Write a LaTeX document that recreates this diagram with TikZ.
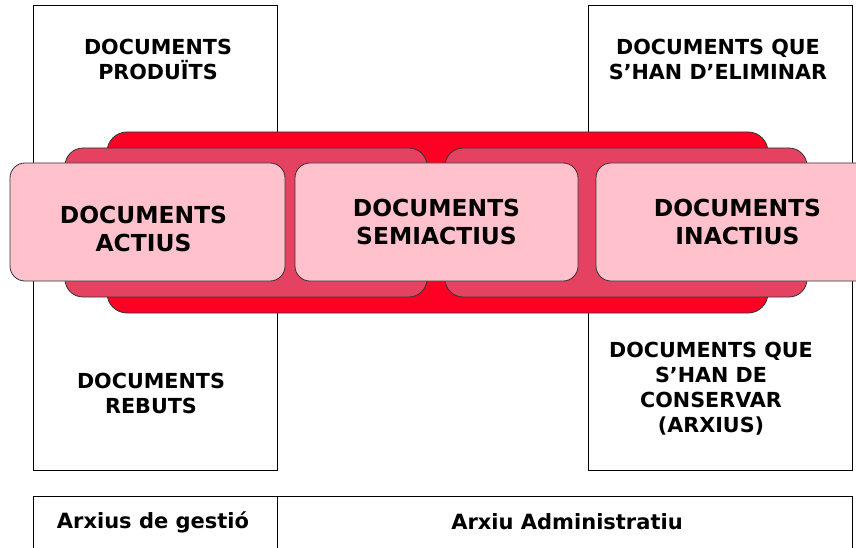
\documentclass[tikz,border=0pt]{standalone}
\usepackage{fontspec}
\setmainfont{DejaVu Sans}
\usetikzlibrary{positioning}

\definecolor{bandred}{HTML}{FF0025}
\definecolor{midpink}{HTML}{E44260}
\definecolor{lightpink}{HTML}{FFC2CD}

\begin{document}
\begin{tikzpicture}[x=1pt, y=-1pt,
	col/.style={draw, fill=white, line width=0.8pt, inner sep=0pt, minimum height=465pt},
	band/.style={draw=black!80, line width=0.8pt, inner sep=0pt, rounded corners=20pt},
	stage/.style={draw=black!80, line width=0.8pt, fill=lightpink, inner sep=0pt,
		rounded corners=15pt, minimum height=118pt},
	big/.style={align=center, font=\fontsize{23.4}{28.5}\selectfont\bfseries},
	small/.style={align=center, font=\fontsize{20.7}{25}\selectfont\bfseries},
	cell/.style={draw, line width=0.8pt, inner sep=0pt, minimum height=70pt},
	foot/.style={font=\fontsize{21}{24}\selectfont\bfseries}]
	\useasboundingbox (0,0) rectangle (856,548);
	\clip (0,0) rectangle (856,548);

	% columns
	\node (cl) [col, minimum width=244pt] at (155,237.5) {};
	\node (cr) [col, minimum width=264pt] at (720,237.5) {};
	\node (prod) [small, below=31pt of cl.north, xshift=3pt] {DOCUMENTS\\PRODUÏTS};
	\node (elim) [small, below=31pt of cr.north, xshift=-2pt] {DOCUMENTS QUE\\S’HAN D’ELIMINAR};
	\node (reb) [small, above=53pt of cl.south, xshift=-4pt] {DOCUMENTS\\REBUTS};
	\node (cons) [small, above=32pt of cr.south, xshift=-9pt] {DOCUMENTS QUE\\S’HAN DE\\CONSERVAR\\(ARXIUS)};

	% bands
	\node (b0) [band, fill=bandred, minimum width=661pt, minimum height=181pt] at (437.5,222.5) {};
	\node (b1) [band, fill=midpink, rounded corners=18pt, minimum width=362pt, minimum height=149pt] at (246,222.5) {};
	\node (b2) [band, fill=midpink, rounded corners=18pt, minimum width=362pt, minimum height=149pt] at (626,222.5) {};

	% stages
	\node (s1) [stage, minimum width=275pt] at (147.5,222) {};
	\node (s2) [stage, minimum width=283pt] at (436.5,222) {};
	\node (s3) [stage, minimum width=285pt] at (738.5,222) {};
	\node (t1) [big] at ([yshift=-7pt, xshift=-4pt]s1) {DOCUMENTS\\ACTIUS};
	\node (t2) [big] at (s2) {DOCUMENTS\\SEMIACTIUS};
	\node (t3) [big] at ([xshift=-1pt]s3) {DOCUMENTS\\INACTIUS};

	% archives
	\node (a1) [cell, minimum width=244pt, anchor=north west] at (33,496) {};
	\node (a2) [cell, minimum width=575pt, anchor=north west] at (277,496) {};
	\node [foot] at (153,522) {Arxius de gestió};
	\node [foot] at (567,522) {Arxiu Administratiu};
\end{tikzpicture}
\end{document}
